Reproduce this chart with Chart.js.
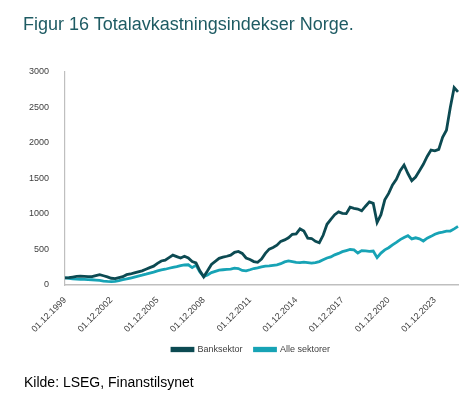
<!DOCTYPE html>
<html>
<head>
<meta charset="utf-8">
<script src="https://cdn.jsdelivr.net/npm/chart.js@4"></script>
<style>
    html, body { margin: 0; padding: 0; background: #fff; }
    body { width: 476px; height: 400px; position: relative; overflow: hidden; font-family: 'Liberation Sans', Arial, sans-serif; }
    #title { position: absolute; left: 23px; top: 14px; font-size: 18px; color: #1e5b63; white-space: nowrap; }
    #source { position: absolute; left: 24px; top: 374px; font-size: 14px; color: #000; white-space: nowrap; }
    #wrap { position: absolute; left: 0; top: 0; width: 476px; height: 400px; }
</style>
</head>
<body>
<div id="wrap"><canvas id="chart"></canvas></div>
<div id="title">Figur 16 Totalavkastningsindekser Norge.</div>
<div id="source">Kilde: LSEG, Finanstilsynet</div>
<script>
/* Kvartalsvise observasjoner, 01.12.1999 – 01.06.2025 */
const firstYear = 1999;
const lastQuarter = 102;

const bankSeries = [
    100, 105, 112, 120, 125, 122, 118, 117, 132, 145,
    130, 115, 95, 90, 105, 117, 145, 155, 170, 185,
    200, 222, 245, 265, 305, 338, 350, 385, 420, 400,
    380, 405, 380, 330, 312, 200, 115, 200, 290, 332,
    375, 392, 405, 420, 460, 473, 445, 380, 360, 330,
    320, 365, 445, 505, 528, 560, 615, 635, 665, 715,
    720, 790, 760, 660, 655, 615, 595, 700, 855, 925,
    990, 1030, 1010, 1005, 1095, 1080, 1070, 1045, 1110, 1170,
    1150, 880, 990, 1200, 1290, 1410, 1490, 1610, 1690, 1570,
    1470, 1520, 1610, 1700, 1810, 1900, 1890, 1910, 2080, 2180,
    2500, 2780, 2720
];

const allSeries = [
    100, 95, 88, 82, 78, 80, 76, 74, 70, 65,
    56, 50, 48, 52, 62, 75, 85, 98, 112, 126,
    138, 152, 168, 182, 198, 212, 222, 236, 248, 258,
    272, 282, 285, 245, 280, 185, 120, 142, 175, 192,
    210, 215, 220, 225, 238, 232, 205, 200, 215, 232,
    240, 255, 265, 270, 278, 285, 300, 325, 340, 330,
    320, 315, 322, 315, 309, 315, 330, 355, 380, 395,
    425, 445, 470, 485, 500, 495, 450, 485, 480, 475,
    478, 385, 450, 495, 525, 565, 600, 640, 670, 695,
    650, 665, 650, 620, 660, 685, 715, 735, 745, 760,
    760, 790, 825
];

const yTicks = [0, 500, 1000, 1500, 2000, 2500, 3000];

// datoetiketter per kvartal (01.12, 01.03, 01.06, 01.09)
const quarterLabels = [];
for (let q = 0; q <= lastQuarter; q++) {
    const monthIndex = 11 + q * 3;
    const y = firstYear + Math.floor(monthIndex / 12);
    const m = (monthIndex % 12) + 1;
    quarterLabels.push('01.' + String(m).padStart(2, '0') + '.' + y);
}

const axisFont = { family: "'Liberation Sans', Arial, sans-serif", size: 9 };

// legenden står litt til høyre for midten i originalen
const legendShift = {
    id: 'legendShift',
    afterLayout(chart) {
        const lg = chart.legend;
        if (!lg) return;
        lg.left += 22;
        lg.right += 22;
        lg.legendHitBoxes.forEach(b => { b.left += 22; });
    }
};

new Chart(document.getElementById('chart'), {
    type: 'line',
    data: {
        labels: quarterLabels,
        datasets: [
            {
                label: 'Banksektor',
                data: bankSeries,
                borderColor: '#0c4a52',
                backgroundColor: '#0c4a52',
                borderWidth: 2.8,
                pointRadius: 0,
                tension: 0
            },
            {
                label: 'Alle sektorer',
                data: allSeries,
                borderColor: '#17a3b5',
                backgroundColor: '#17a3b5',
                borderWidth: 2.8,
                pointRadius: 0,
                tension: 0
            }
        ]
    },
    options: {
        responsive: true,
        maintainAspectRatio: false,
        animation: false,
        layout: { padding: { top: 72, right: 18, bottom: 36, left: 0 } },
        plugins: {
            legend: {
                position: 'bottom',
                labels: {
                    color: '#404040',
                    font: axisFont,
                    boxWidth: 21,
                    boxHeight: 2.5,
                    padding: 12
                }
            },
            tooltip: { enabled: false }
        },
        scales: {
            x: {
                offset: false,
                grid: { display: false },
                border: { display: true, color: '#bfbfbf', width: 1.5 },
                afterFit: scale => { scale.height = 48; },
                ticks: {
                    autoSkip: false,
                    maxRotation: 45,
                    minRotation: 45,
                    padding: 2,
                    color: '#404040',
                    font: axisFont,
                    callback: function (v, i) {
                        return i % 12 === 0 ? this.getLabelForValue(v) : null;
                    }
                }
            },
            y: {
                min: 0,
                max: 3000,
                grid: { display: false },
                border: { display: true, color: '#bfbfbf', width: 1.2 },
                afterFit: scale => { scale.width = 65; },
                afterBuildTicks: scale => { scale.ticks = yTicks.map(v => ({ value: v })); },
                ticks: {
                    padding: 8,
                    color: '#404040',
                    font: axisFont,
                    callback: v => String(v)
                }
            }
        }
    },
    plugins: [legendShift]
});
</script>
</body>
</html>
